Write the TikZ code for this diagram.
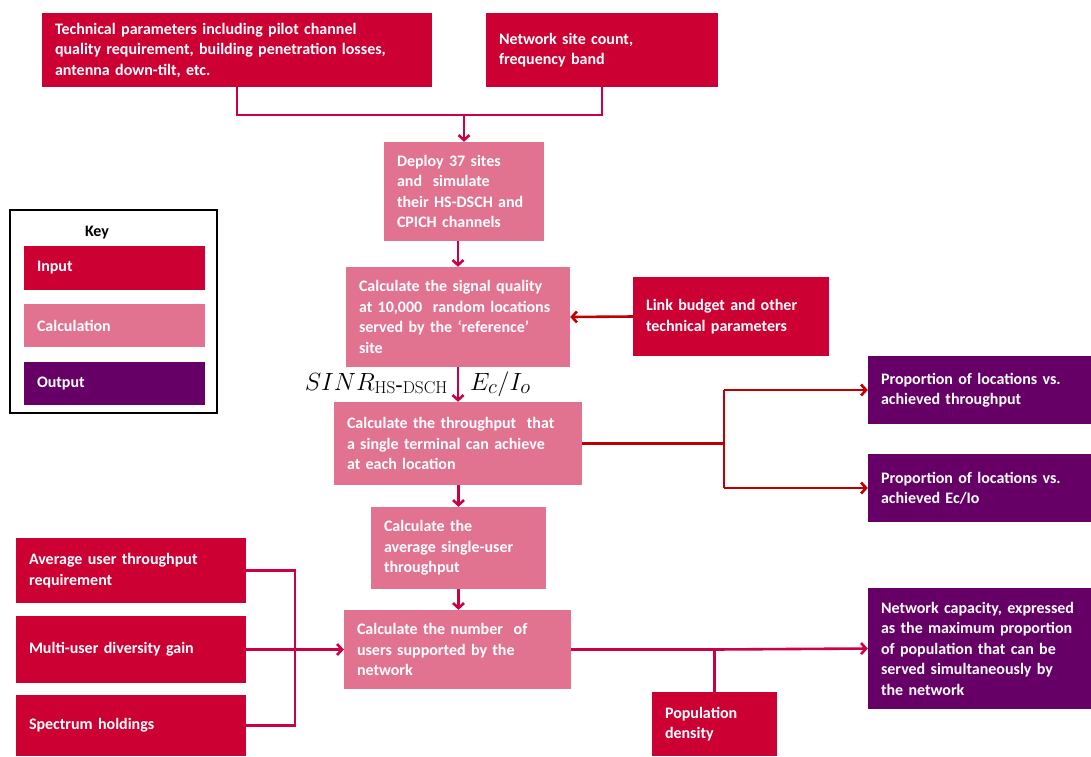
\documentclass[tikz,border=0pt]{standalone}
\usepackage[no-math]{fontspec}
\setmainfont{Carlito}[BoldFont={Carlito Bold}]
\usetikzlibrary{arrows.meta,calc}
\definecolor{incol}{HTML}{CC0033}
\definecolor{calccol}{HTML}{E27390}
\definecolor{outcol}{HTML}{660066}
\definecolor{conncol}{HTML}{CC0044}
\definecolor{redcol}{HTML}{C00000}
\tikzset{
  box/.style={rectangle, inner xsep=13pt, inner ysep=0pt, align=left, text=white,
    font=\fontsize{16}{20.5}\selectfont\bfseries},
  inbox/.style={box, fill=incol},
  calcbox/.style={box, fill=calccol},
  outbox/.style={box, fill=outcol},
  conn/.style={draw=conncol, line width=2.6pt},
  redconn/.style={draw=redcol, line width=2.6pt},
  tip/.style={-{Straight Barb[length=5pt,width=11pt]}},
}
\begin{document}
\begin{tikzpicture}[x=1pt,y=-1pt]
\useasboundingbox (0,0) rectangle (1091,756);
% top inputs
\node[inbox, text width=364pt, minimum height=74pt] (tech) at (237,50)
  {Technical parameters including pilot channel\\quality requirement, building penetration losses,\\antenna down-tilt, etc.};
\node[inbox, text width=206pt, minimum height=74pt] (net) at (602,50)
  {Network site count,\\frequency band};
% calculations
\node[calcbox, text width=134pt, minimum height=99pt] (deploy) at (464,191.5)
  {Deploy 37 sites\\and\ \ simulate\\their HS-DSCH and\\CPICH channels};
\node[calcbox, text width=198pt, minimum height=100pt] (signal) at (458,317)
  {Calculate the signal quality\\at 10,000\ \ random locations\\served by the `reference'\\site};
\node[inbox, text width=170pt, minimum height=79pt] (link) at (731,316.5)
  {Link budget and other\\technical parameters};
\node[calcbox, text width=222pt, minimum height=83pt] (thr) at (458,443.5)
  {Calculate the throughput\ \ that\\a single terminal can achieve\\at each location};
\node[outbox, text width=197pt, minimum height=68pt] (out1) at (979.5,390)
  {Proportion of locations vs.\\achieved throughput};
\node[outbox, text width=197pt, minimum height=68pt] (out2) at (979.5,488)
  {Proportion of locations vs.\\achieved Ec/Io};
\node[calcbox, text width=149pt, minimum height=82pt] (avg) at (458.5,548)
  {Calculate the\\average single-user\\throughput};
\node[calcbox, text width=201pt, minimum height=79pt] (users) at (457.5,649.5)
  {Calculate the number\ \ of\\users supported by the\\network};
% bottom-left inputs
\node[inbox, text width=204pt, minimum height=65pt] (avgreq) at (131,570.5)
  {Average user throughput\\requirement};
\node[inbox, text width=204pt, minimum height=67pt] (multi) at (131,649.5)
  {Multi-user diversity gain};
\node[inbox, text width=204pt, minimum height=61pt] (spec) at (131,725.5)
  {Spectrum holdings};
\node[inbox, text width=99pt, minimum height=64pt] (pop) at (714.5,724)
  {Population\\density};
\node[outbox, text width=197pt, minimum height=121pt] (out3) at (979.5,648.5)
  {Network capacity, expressed\\as the maximum proportion\\of population that can be\\served simultaneously by\\the network};
% key
\node[draw=black, line width=2pt, minimum width=207pt, minimum height=203pt, inner sep=0pt] (key) at (113.5,311.5) {};
\node[font=\fontsize{16}{18}\selectfont\bfseries, inner sep=0pt] (keyt) at (97,233) {Key};
\node[inbox, text width=155pt, minimum height=44pt] (kin) at (114.5,268) {Input};
\node[calcbox, text width=155pt, minimum height=43pt] (kcalc) at (114.5,325.5) {Calculation};
\node[outbox, text width=155pt, minimum height=43pt] (kout) at (114.5,383.5) {Output};
% math labels
\node[anchor=base east, inner sep=0pt, font=\fontsize{24}{28}\selectfont] (sinr) at (448,390)
  {$SINR_{\mathrm{HS\mbox{-}DSCH}}$};
\node[anchor=base west, inner sep=0pt, font=\fontsize{28}{32}\selectfont] (ecio) at (470,390)
  {$E_c/I_o$};
% connectors
\coordinate (j1) at (464,115);
\draw[conn] (tech.south) |- (j1) -| (net.south);
\draw[conn,tip] (j1) -- (deploy.north);
\draw[conn,tip] (signal.north |- deploy.south) -- (signal.north);
\draw[redconn,tip] (link.west) -- (signal.east);
\draw[conn,tip] (signal.south) -- (thr.north);
\coordinate (j2) at (724,443.5);
\draw[redconn] (thr.east) -- (j2);
\draw[redconn,tip] (j2 |- out1.west) |- (out1.west);
\draw[redconn] (j2 |- out1.west) -- (j2 |- out2.west);
\draw[redconn,tip] (j2 |- out2.west) -- (out2.west);
\draw[conn,tip] (thr.south -| avg.north) -- (avg.north);
\draw[conn,tip] (avg.south) -- (avg.south |- users.north);
\coordinate (j3) at (295,570.5);
\draw[conn] (avgreq.east) -- (j3) -- (j3 |- spec.east) -- (spec.east);
\draw[conn,tip] (multi.east) -- (users.west);
\coordinate (j4) at (pop.north |- users.east);
\draw[conn] (users.east) -- (j4);
\draw[conn] (pop.north) -- (j4);
\draw[conn,tip] (j4) -- (out3.west);
\end{tikzpicture}
\end{document}
